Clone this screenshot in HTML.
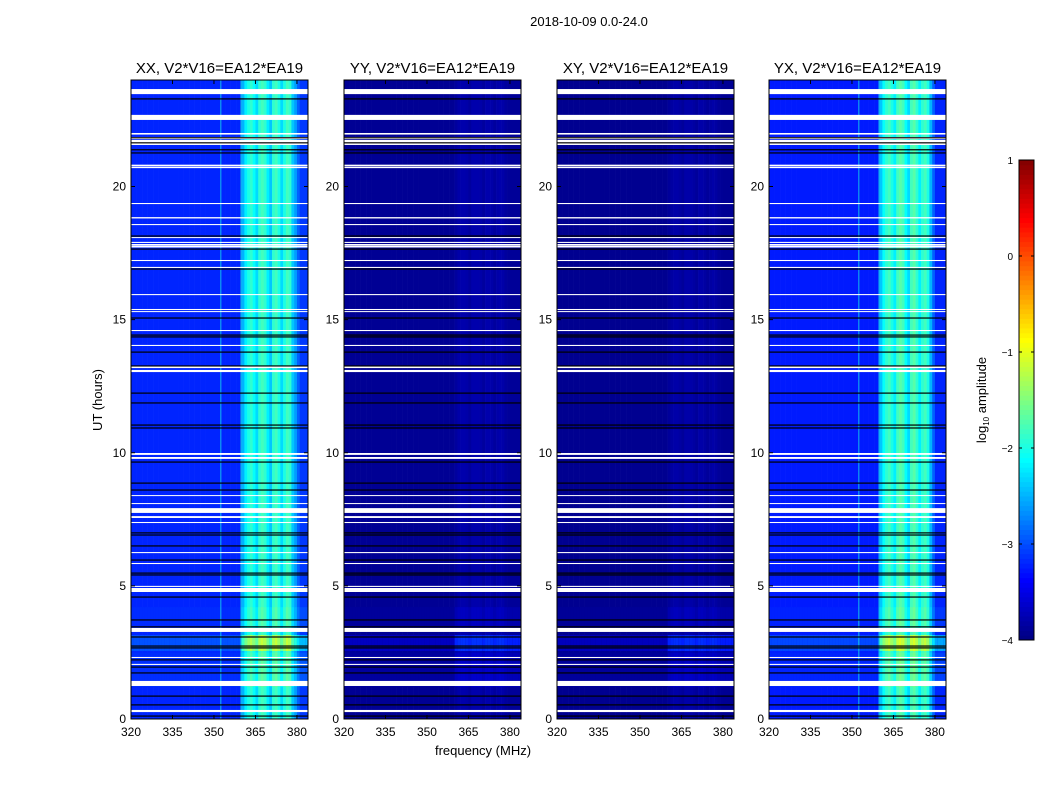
<!DOCTYPE html>
<html><head><meta charset="utf-8"><style>
body{margin:0;background:#fff;width:1050px;height:800px;overflow:hidden}
svg text{font-family:"Liberation Sans",sans-serif;fill:#000}
</style></head><body>
<svg id="chart" width="1050" height="800" viewBox="0 0 1050 800" xmlns="http://www.w3.org/2000/svg">
<text x="589" y="26" font-size="13" text-anchor="middle">2018-10-09 0.0-24.0</text>
<text x="483" y="755" font-size="13" text-anchor="middle">frequency (MHz)</text>
<text x="0" y="0" font-size="13" text-anchor="middle" transform="translate(102,400) rotate(-90)">UT (hours)</text>
<g id="panels"></g>
<g id="cbar"></g>
<text x="0" y="0" font-size="13" text-anchor="middle" transform="translate(986,400) rotate(-90)">log<tspan font-size="8" dy="3">10</tspan><tspan dy="-3"> amplitude</tspan></text>
</svg>
<script>
const panelTitles = ["XX, V2*V16=EA12*EA19","YY, V2*V16=EA12*EA19","XY, V2*V16=EA12*EA19","YX, V2*V16=EA12*EA19"];
const panelLeft = [131,344,557,769];
const lowBase = [-3.2,-3.9,-3.92,-3.25];
const bandXX = [-2.5,-2.2,-2.0,-1.9,-2.1,-2.3,-1.9,-1.8,-1.9,-2.2,-2.4,-1.9,-1.8,-2.0,-2.3,-2.0,-1.8,-1.9,-2.4,-2.6,-2.9,-3.1,-3.1,-3.1];
const bandYY = [-3.85,-3.8,-3.78,-3.78,-3.8,-3.85,-3.78,-3.78,-3.78,-3.8,-3.85,-3.78,-3.78,-3.8,-3.85,-3.8,-3.78,-3.8,-3.85,-3.87,-3.88,-3.88,-3.88,-3.88];
const bandXY = [-3.87,-3.83,-3.8,-3.8,-3.83,-3.87,-3.8,-3.8,-3.8,-3.83,-3.87,-3.8,-3.8,-3.83,-3.87,-3.83,-3.8,-3.83,-3.87,-3.89,-3.9,-3.9,-3.9,-3.9];
const bandYX = [-2.4,-2.1,-1.9,-1.8,-2.0,-2.2,-1.8,-1.7,-1.8,-2.1,-2.3,-1.8,-1.7,-1.9,-2.2,-1.9,-1.8,-2.0,-2.5,-2.9,-3.2,-3.2,-3.2,-3.2];
const bands = [bandXX,bandYY,bandXY,bandYX];
const bandStart = 360;
const boostStart = [2.55,1.2,3.5];
const boostEnd = [3.15,2.5,4.2];
const boostAmt = [0.65,0.15,0.1];
const whiteStart = [23.47,22.50,21.95,21.78,21.56,20.77,20.69,19.34,18.80,18.55,18.07,17.88,17.78,17.71,17.20,16.94,15.92,15.36,15.29,14.57,14.01,13.18,13.03,9.92,9.77,8.38,8.08,7.74,7.55,7.36,6.23,5.82,4.96,4.77,3.27,2.29,2.03,1.24,0.26];
const whiteEnd = [23.66,22.69,22.01,21.86,21.75,20.82,20.75,19.38,18.85,18.59,18.10,17.92,17.84,17.77,17.24,16.98,15.96,15.40,15.32,14.61,14.05,13.26,13.11,9.99,9.84,8.41,8.11,7.92,7.62,7.40,6.27,5.86,5.00,4.92,3.42,2.33,2.07,1.43,0.34];
const blackLines = [23.29,21.83,21.64,21.38,21.26,18.14,17.65,16.90,15.06,14.42,14.35,13.78,13.26,12.24,11.87,11.04,10.93,9.65,8.86,8.60,6.99,6.91,6.50,5.97,5.48,5.41,4.58,3.72,3.46,3.08,2.74,2.67,2.22,1.95,1.73,0.86,0.53,0.11];
const yTicks = [0,5,10,15,20];
const xTicks = [320,335,350,365,380];
const cbTicks = [-4,-3,-2,-1,0,1];

const NS="http://www.w3.org/2000/svg";
const F0=320,F1=384,T0=0,T1=24,TOP=80,BOT=719,PW=177;
function yScale(h){return BOT-(h-T0)/(T1-T0)*(BOT-TOP);}
function xScale(p,f){return panelLeft[p]+(f-F0)/(F1-F0)*PW;}
function jet(v){let t=(v+4)/5;t=Math.max(0,Math.min(1,t));
 const r=Math.max(0,Math.min(1,1.5-Math.abs(4*t-3))),g=Math.max(0,Math.min(1,1.5-Math.abs(4*t-2))),b=Math.max(0,Math.min(1,1.5-Math.abs(4*t-1)));
 return `rgb(${Math.round(r*255)},${Math.round(g*255)},${Math.round(b*255)})`;}
function mk(tag,attrs,parent){const e=document.createElementNS(NS,tag);for(const k in attrs)e.setAttribute(k,attrs[k]);parent.appendChild(e);return e;}
const root=document.getElementById('panels');
for(let p=0;p<4;p++){
 const g=mk('g',{},root);
 
 
 for(let f=F0;f<F1;f++){
  const v=f<bandStart?lowBase[p]:bands[p][f-bandStart];
  const x=xScale(p,f),w=xScale(p,f+1)-x+0.3;
  const r=mk('rect',{x:x,y:TOP,width:w,height:BOT-TOP,fill:jet(v)},g);
  
  
  for(let b=0;b<boostStart.length;b++){
   const scale=f<bandStart?0.35:1;
   const rb=mk('rect',{x:x,y:yScale(boostEnd[b]),width:w,height:yScale(boostStart[b])-yScale(boostEnd[b]),fill:jet(v+boostAmt[b]*scale)},g);
   
   
  }
 }
 if(p===0||p===3){
  for(const lf of [352.3,359.6]){
   const l=mk('rect',{x:xScale(p,lf),y:TOP,width:1,height:BOT-TOP,fill:jet(-2.0),opacity:0.7},g);
   
   
  }
 }
 for(let i=0;i<whiteStart.length;i++){
  const w=mk('rect',{x:panelLeft[p],y:yScale(whiteEnd[i]),width:PW,height:Math.max(1,yScale(whiteStart[i])-yScale(whiteEnd[i])),fill:'#fff'},g);
  
  
 }
 for(let i=0;i<blackLines.length;i++){
  const b=mk('rect',{x:panelLeft[p],y:yScale(blackLines[i])-0.6,width:PW,height:1.2,fill:'#000'},g);
  
  
 }
 const fr=mk('rect',{x:panelLeft[p],y:TOP,width:PW,height:BOT-TOP,fill:'none',stroke:'#000','stroke-width':1},g);
 
 
 const t=mk('text',{x:panelLeft[p]+PW/2,y:73,'font-size':15,'text-anchor':'middle'},g);
 t.textContent=panelTitles[p];
 
 
 for(const yt of yTicks){
  const y=yScale(yt);
  mk('line',{x1:panelLeft[p],x2:panelLeft[p]+4,y1:y,y2:y,stroke:'#000'},g);
  mk('line',{x1:panelLeft[p]+PW-4,x2:panelLeft[p]+PW,y1:y,y2:y,stroke:'#000'},g);
  const lt=mk('text',{x:panelLeft[p]-5,y:y+4,'font-size':12,'text-anchor':'end'},g);
  lt.textContent=yt;
  
  
 }
 for(const xt of xTicks){
  const x=xScale(p,xt);
  mk('line',{x1:x,x2:x,y1:BOT,y2:BOT-4,stroke:'#000'},g);
  mk('line',{x1:x,x2:x,y1:TOP,y2:TOP+4,stroke:'#000'},g);
  const lt=mk('text',{x:x,y:736,'font-size':12,'text-anchor':'middle'},g);
  lt.textContent=xt;
  
  
 }
}
const cb=document.getElementById('cbar');
const CX=1019,CW=15,CT=160,CB=640;
for(let i=0;i<100;i++){
 const v=-4+5*(i+0.5)/100;
 const y0=CB-(i+1)*(CB-CT)/100;
 const s=mk('rect',{x:CX,y:y0,width:CW,height:(CB-CT)/100+0.5,fill:jet(v)},cb);
 
 
}
const cf=mk('rect',{x:CX,y:CT,width:CW,height:CB-CT,fill:'none',stroke:'#000'},cb);


for(const t of cbTicks){
 const y=CB-(t+4)/5*(CB-CT);
 mk('line',{x1:CX,x2:CX+3,y1:y,y2:y,stroke:'#000'},cb);
 mk('line',{x1:CX+CW-3,x2:CX+CW,y1:y,y2:y,stroke:'#000'},cb);
 const lt=mk('text',{x:1013,y:y+4,'font-size':10,'text-anchor':'end'},cb);
 lt.textContent=(t<0?'\u2212'+(-t):t);
 
 
}
</script>
</body></html>
